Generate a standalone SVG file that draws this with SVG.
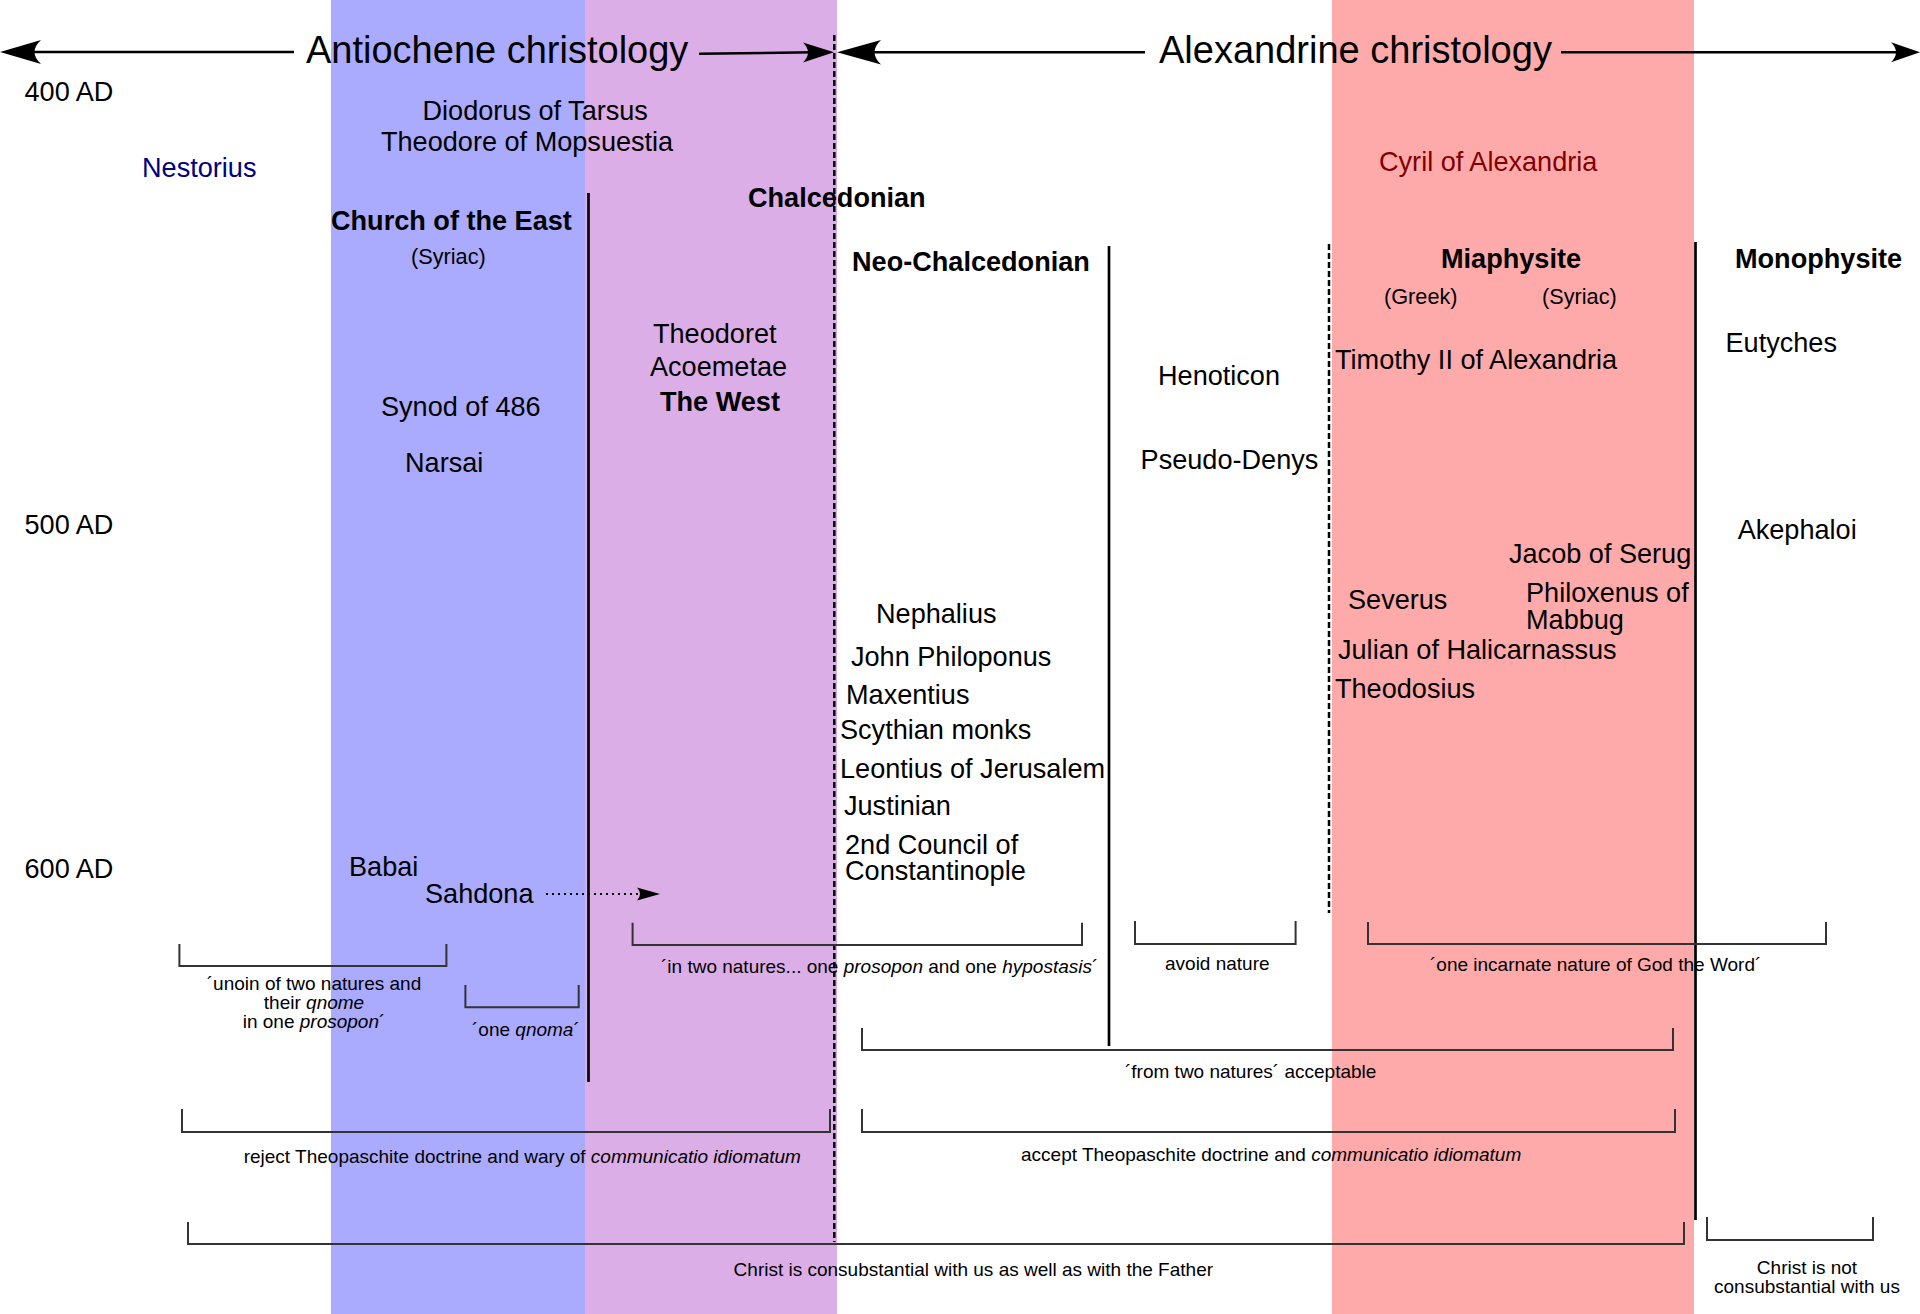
<svg xmlns="http://www.w3.org/2000/svg" width="1920" height="1314" viewBox="0 0 1920 1314">
<style>
text{font-family:"Liberation Sans",Arial,sans-serif;font-size:27.1px;fill:#000}
.title{font-size:38px}
.b{font-weight:bold}
.s{font-size:21.7px}
.l{font-size:19px}
.i{font-style:italic}
.br{fill:none;stroke:#333;stroke-width:2}
.v{stroke:#000;stroke-width:2.7;fill:none}
.d{stroke:#000;stroke-width:2.5;stroke-dasharray:6,3;fill:none}
.ar{stroke:#000;stroke-width:2.5;fill:none}
.head{fill:#000;stroke:none}
</style>
<rect width="1920" height="1314" fill="#fff"/>
<g id="bands">
<rect x="331" y="0" width="254" height="1314" fill="#aaaaff"/>
<rect x="585" y="0" width="252" height="1314" fill="#dcaee7"/>
<rect x="1332" y="0" width="362" height="1314" fill="#ffaaaa"/>
</g>
<g id="connectors">
<line class="ar" x1="30" y1="52" x2="294" y2="52"/>
<path class="head" d="M0,52 L41,40 Q28,52 41,64 Z"/>
<line class="ar" x1="699" y1="53.7" x2="814" y2="52.3"/>
<path class="head" d="M834,52.3 L803,42.5 Q813,52.3 803,62.5 Z"/>
<line class="ar" x1="868" y1="52.3" x2="1145" y2="52.3"/>
<path class="head" d="M837,52.3 L881,40 Q868,52.3 881,64.5 Z"/>
<line class="ar" x1="1561" y1="52.3" x2="1900" y2="52.3"/>
<path class="head" d="M1920,52.3 L1891,42.3 Q1901,52.3 1891,62.3 Z"/>
<line class="v" x1="588.5" y1="193" x2="588.5" y2="1082"/>
<line class="d" x1="834.3" y1="35" x2="834.3" y2="1242"/>
<line class="v" x1="1109" y1="246" x2="1109" y2="1046"/>
<line class="d" x1="1329" y1="244" x2="1329" y2="913"/>
<line class="v" x1="1695.5" y1="242" x2="1695.5" y2="1220"/>
<line x1="546" y1="894" x2="645" y2="894" stroke="#000" stroke-width="2" stroke-dasharray="2,4"/>
<path class="head" d="M660,894 L637,887.5 Q643,894 637,900.5 Z"/>
<path class="br" d="M179.4,944 V966 H446.4 V944"/>
<path class="br" d="M465.4,985 V1007.3 H578.7 V985"/>
<path class="br" d="M632.6,922.7 V945 H1082 V922.7"/>
<path class="br" d="M1135,921 V944 H1295.6 V921"/>
<path class="br" d="M1368,922 V944 H1826 V922"/>
<path class="br" d="M862,1028 V1050 H1673 V1028"/>
<path class="br" d="M182,1109 V1132 H830 V1109"/>
<path class="br" d="M862,1109 V1132 H1675 V1109"/>
<path class="br" d="M188,1222 V1244 H1684 V1222"/>
<path class="br" d="M1707,1217 V1240 H1873 V1217"/>
</g>
<g id="nodes" transform="translate(0,1.2)">
<g id="title-antiochene"><text class="title" x="306" y="62">Antiochene christology</text></g>
<g id="title-alexandrine"><text class="title" x="1159" y="62">Alexandrine christology</text></g>
<g id="year-400"><text x="24.5" y="100">400 AD</text></g>
<g id="year-500"><text x="24.5" y="533.3">500 AD</text></g>
<g id="year-600"><text x="24.5" y="877.3">600 AD</text></g>
<g id="diodorus"><text x="422.5" y="119.3">Diodorus of Tarsus</text></g>
<g id="theodore"><text x="381" y="150">Theodore of Mopsuestia</text></g>
<g id="nestorius"><text x="142" y="175.7" style="fill:#000080">Nestorius</text></g>
<g id="cyril"><text x="1379" y="170" style="fill:#800000">Cyril of Alexandria</text></g>
<g id="chalcedonian"><text class="b" x="748" y="205.7">Chalcedonian</text></g>
<g id="church-east"><text class="b" x="331" y="229.3">Church of the East</text><text class="s" x="411" y="262.7">(Syriac)</text></g>
<g id="neo-chalcedonian"><text class="b" x="852" y="269.5">Neo-Chalcedonian</text></g>
<g id="miaphysite"><text class="b" x="1441" y="266.7">Miaphysite</text><text class="s" x="1384" y="303">(Greek)</text><text class="s" x="1542" y="303">(Syriac)</text></g>
<g id="monophysite"><text class="b" x="1735" y="266.7">Monophysite</text></g>
<g id="theodoret"><text x="653" y="341.7">Theodoret</text></g>
<g id="acoemetae"><text x="650" y="375">Acoemetae</text></g>
<g id="the-west"><text class="b" x="660" y="410">The West</text></g>
<g id="synod-486"><text x="381" y="415">Synod of 486</text></g>
<g id="narsai"><text x="405" y="471">Narsai</text></g>
<g id="eutyches"><text x="1725.5" y="350.7">Eutyches</text></g>
<g id="timothy"><text x="1335" y="368.3">Timothy II of Alexandria</text></g>
<g id="henoticon"><text x="1158" y="384">Henoticon</text></g>
<g id="pseudo-denys"><text x="1140.6" y="467.7">Pseudo-Denys</text></g>
<g id="akephaloi"><text x="1737.7" y="538.3">Akephaloi</text></g>
<g id="jacob"><text x="1509" y="561.7">Jacob of Serug</text></g>
<g id="philoxenus"><text x="1526" y="600.7">Philoxenus of</text><text x="1526" y="627.7">Mabbug</text></g>
<g id="severus"><text x="1348" y="608.3">Severus</text></g>
<g id="julian"><text x="1338" y="657.7">Julian of Halicarnassus</text></g>
<g id="theodosius"><text x="1335" y="696.7">Theodosius</text></g>
<g id="nephalius"><text x="876" y="621.7">Nephalius</text></g>
<g id="philoponus"><text x="851" y="665">John Philoponus</text></g>
<g id="maxentius"><text x="846" y="703.3">Maxentius</text></g>
<g id="scythian"><text x="840" y="738.3">Scythian monks</text></g>
<g id="leontius"><text x="840" y="777.3">Leontius of Jerusalem</text></g>
<g id="justinian"><text x="844" y="814">Justinian</text></g>
<g id="council"><text x="845" y="852.7">2nd Council of</text><text x="845" y="879.3">Constantinople</text></g>
<g id="babai"><text x="349" y="875">Babai</text></g>
<g id="sahdona"><text x="425" y="902.3">Sahdona</text></g>
<g id="label-unoin"><text class="l" text-anchor="middle" x="314" y="989.3">´unoin of two natures and</text><text class="l" text-anchor="middle" x="314" y="1008.3">their <tspan class="i">qnome</tspan></text><text class="l" text-anchor="middle" x="314" y="1027.3">in one <tspan class="i">prosopon</tspan>´</text></g>
<g id="label-qnoma"><text class="l" x="472" y="1035">´one <tspan class="i">qnoma</tspan>´</text></g>
<g id="label-two-natures"><text class="l" x="661" y="972.3">´in two natures... one <tspan class="i">prosopon</tspan> and one <tspan class="i">hypostasis</tspan>´</text></g>
<g id="label-avoid"><text class="l" x="1165" y="969.3">avoid nature</text></g>
<g id="label-incarnate"><text class="l" x="1430" y="970">´one incarnate nature of God the Word´</text></g>
<g id="label-from-two"><text class="l" x="1125" y="1076.7">´from two natures´ acceptable</text></g>
<g id="label-reject"><text class="l" x="243.7" y="1161.7">reject Theopaschite doctrine and wary of <tspan class="i">communicatio idiomatum</tspan></text></g>
<g id="label-accept"><text class="l" x="1021" y="1160">accept Theopaschite doctrine and <tspan class="i">communicatio idiomatum</tspan></text></g>
<g id="label-consubstantial"><text class="l" x="733.6" y="1275">Christ is consubstantial with us as well as with the Father</text></g>
<g id="label-not"><text class="l" text-anchor="middle" x="1807" y="1273.3">Christ is not</text><text class="l" text-anchor="middle" x="1807" y="1291.7">consubstantial with us</text></g>
</g>
</svg>
